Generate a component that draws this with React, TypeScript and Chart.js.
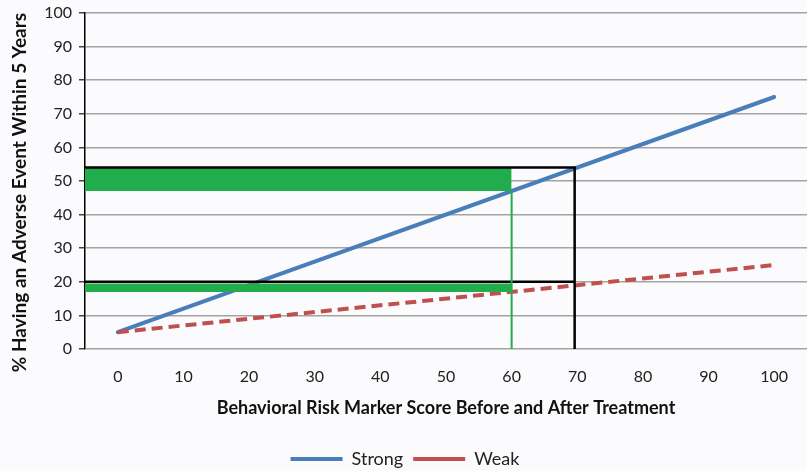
import React, { useEffect, useRef } from "react";
import { Chart, registerables } from "chart.js";

Chart.register(...registerables);

// Data
const xTickValues = [0, 10, 20, 30, 40, 50, 60, 70, 80, 90, 100];
const yTickValues = [0, 10, 20, 30, 40, 50, 60, 70, 80, 90, 100];

const strongX = [0, 100];
const strongY = [5, 75];
const weakX = [0, 100];
const weakY = [5, 25];

// Highlight bands (from left edge of plot to x = 60)
const bandX = [-5, 60];
const upperBandTop = [54, 54];
const upperBandBottom = [47, 47];
const lowerBandTop = [19.5, 19.5];
const lowerBandBottom = [17, 17];

// Black reference lines
const blackUpperX = [-5, 69.6, 69.6];
const blackUpperY = [54, 54, 0];
const blackLowerX = [-5, 69.6];
const blackLowerY = [20, 20];

// Green vertical at x = 60
const greenVX = [60, 60];
const greenVY = [0, 47];

const toPts = (xs: number[], ys: number[]) => xs.map((x, i) => ({ x, y: ys[i] }));

const GREEN = "#22ad4c";
const BLUE = "#4a7ebb";
const RED = "#c0504d";

export default function App() {
  const ref = useRef<HTMLCanvasElement | null>(null);

  useEffect(() => {
    if (!ref.current) return;
    const bg = {
      id: "bg",
      beforeDraw(chart: any) {
        const c = chart.ctx;
        c.save();
        c.fillStyle = "#fbfbfd";
        c.fillRect(0, 0, chart.width, chart.height);
        c.restore();
      },
    };
    const chart = new Chart(ref.current, {
      type: "line",
      data: {
        datasets: [
          {
            label: "band1top",
            data: toPts(bandX, upperBandTop),
            borderWidth: 0,
            pointRadius: 0,
            backgroundColor: GREEN,
            borderColor: GREEN,
            fill: "+1",
            order: 1,
          },
          {
            label: "band1bottom",
            data: toPts(bandX, upperBandBottom),
            borderWidth: 0,
            pointRadius: 0,
            borderColor: GREEN,
            fill: false,
            order: 1,
          },
          {
            label: "band2top",
            data: toPts(bandX, lowerBandTop),
            borderWidth: 0,
            pointRadius: 0,
            backgroundColor: GREEN,
            borderColor: GREEN,
            fill: "+1",
            order: 1,
          },
          {
            label: "band2bottom",
            data: toPts(bandX, lowerBandBottom),
            borderWidth: 0,
            pointRadius: 0,
            borderColor: GREEN,
            fill: false,
            order: 1,
          },
          {
            label: "greenV",
            data: toPts(greenVX, greenVY),
            borderWidth: 2,
            pointRadius: 0,
            borderColor: GREEN,
            fill: false,
            order: 0,
          },
          {
            label: "blackUpper",
            data: toPts(blackUpperX, blackUpperY),
            borderWidth: 2.5,
            pointRadius: 0,
            borderColor: "#000",
            fill: false,
            order: 0,
          },
          {
            label: "blackLower",
            data: toPts(blackLowerX, blackLowerY),
            borderWidth: 2.5,
            pointRadius: 0,
            borderColor: "#000",
            fill: false,
            order: 0,
          },
          {
            label: "Strong",
            data: toPts(strongX, strongY),
            borderWidth: 4,
            borderColor: BLUE,
            backgroundColor: BLUE,
            pointRadius: 0,
            borderCapStyle: "round",
            fill: false,
            order: 3,
          },
          {
            label: "Weak",
            data: toPts(weakX, weakY),
            borderWidth: 4,
            borderColor: RED,
            backgroundColor: RED,
            borderDash: [11, 6],
            pointRadius: 0,
            fill: false,
            order: 2,
          },
        ],
      },
      options: {
        animation: false,
        responsive: false,
        maintainAspectRatio: false,
        layout: { padding: { left: 0, right: -3, top: 13, bottom: -7 } },
        font: { family: "Lato" },
        plugins: {
          tooltip: { enabled: false },
          legend: {
            position: "bottom",
            labels: {
              filter: (item: any) => item.text === "Strong" || item.text === "Weak",
              sort: (a: any, b: any) => a.datasetIndex - b.datasetIndex,
              usePointStyle: true,
              pointStyle: "line",
              pointStyleWidth: 52,
              boxHeight: 4,
              padding: 10,
              color: "#222",
              font: { family: "Lato", size: 18 },
            },
          },
        },
        scales: {
          x: {
            type: "linear",
            min: -5,
            max: 105,
            afterFit: (s: any) => {
              s.height = 91;
              s.paddingLeft = 0;
              s.paddingRight = 0;
            },
            afterBuildTicks: (s: any) => {
              s.ticks = xTickValues.map((v) => ({ value: v }));
            },
            grid: { display: false },
            border: { display: false },
            ticks: {
              padding: 10,
              color: "#222",
              font: { family: "Lato", size: 16 },
              autoSkip: false,
              maxRotation: 0,
            },
            title: {
              display: true,
              text: "Behavioral Risk Marker Score Before and After Treatment",
              color: "#111",
              font: { family: "Lato", size: 18, weight: "bold" },
              padding: { top: 4, bottom: 21 },
            },
          },
          y: {
            min: 0,
            max: 100,
            afterFit: (s: any) => {
              s.width = 85;
              s.paddingTop = 0;
              s.paddingBottom = 0;
            },
            afterBuildTicks: (s: any) => {
              s.ticks = yTickValues.map((v) => ({ value: v }));
            },
            grid: {
              color: "#a3a3a3",
              lineWidth: 1.5,
              tickColor: "#444",
              tickLength: 6,
            },
            border: { display: true, color: "#000", width: 1.5 },
            ticks: {
              padding: 7,
              color: "#222",
              font: { family: "Lato", size: 16 },
            },
            title: {
              display: true,
              text: "% Having an Adverse Event Within 5 Years     ",
              color: "#111",
              font: { family: "Lato", size: 19, weight: "bold" },
              padding: { top: 8, bottom: 0 },
            },
          },
        },
      },
      plugins: [bg],
    } as any);
    return () => chart.destroy();
  }, []);

  return (
    <div style={{ position: "absolute", left: 0, top: 0, width: 807, height: 471 }}>
      <canvas ref={ref} width={807} height={471} style={{ width: 807, height: 471 }} />
    </div>
  );
}
